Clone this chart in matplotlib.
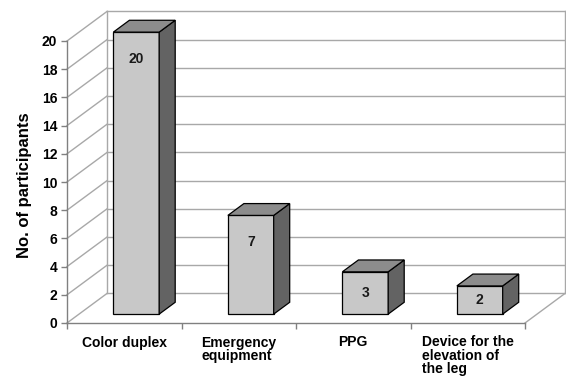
import matplotlib
matplotlib.use("Agg")
import matplotlib.pyplot as plt
from matplotlib.patches import Polygon

# Data
categories = ["Color duplex", "Emergency\nequipment", "PPG",
              "Device for the\nelevation of\nthe leg"]
participants = [20, 7, 3, 2]
y_ticks = list(range(0, 21, 2))

plt.rcParams['font.family'] = ['Liberation Sans', 'DejaVu Sans']
plt.rcParams['font.weight'] = 'bold'

W, H = 566, 377
fig = plt.figure(figsize=(W / 100, H / 100), dpi=100)
fig.patch.set_facecolor('white')
# axes box = front plane of the pseudo-3D chart
ax = fig.add_axes([67 / W, (H - 323) / H, 458 / W, 282 / H])
ax.set_xlim(0, len(categories))
ax.set_ylim(0, 20)
ax.patch.set_visible(False)

# depth vector of the 3D box, in data units
depth_x, depth_y = 0.35, 2.1
n = len(categories)
wall_c = '#a8a8a8'
axis_c = '#808080'

# back wall gridlines and left wall diagonals
for v in y_ticks:
    ax.plot([depth_x, n + depth_x], [v + depth_y] * 2, color=wall_c, lw=1, clip_on=False, zorder=1)
    ax.plot([0, depth_x], [v, v + depth_y], color=wall_c, lw=1, clip_on=False, zorder=1)
ax.plot([depth_x] * 2, [depth_y, 20 + depth_y], color=wall_c, lw=1, clip_on=False, zorder=1)
ax.plot([n + depth_x] * 2, [depth_y, 20 + depth_y], color=wall_c, lw=1, clip_on=False, zorder=1)
ax.plot([n, n + depth_x], [0, depth_y], color=wall_c, lw=1, clip_on=False, zorder=1)

# 3D bars
bar_w = 0.40
t_front, t_depth = 0.30, 0.40
off_x, off_y = t_front * depth_x, t_front * depth_y
ddx, ddy = t_depth * depth_x, t_depth * depth_y
front_c, side_c, top_c = '#c8c8c8', '#636363', '#8c8c8c'

centers = [i + 0.5 + off_x for i in range(n)]
bars = ax.bar(centers, participants, width=bar_w, bottom=off_y,
              color=front_c, edgecolor='black', linewidth=0.9, zorder=3, clip_on=False)
for rect, v in zip(bars, participants):
    x0, y0 = rect.get_x(), rect.get_y()
    x1, y1 = x0 + rect.get_width(), y0 + rect.get_height()
    side = Polygon([(x1, y0), (x1 + ddx, y0 + ddy), (x1 + ddx, y1 + ddy), (x1, y1)],
                   closed=True, facecolor=side_c, edgecolor='black', lw=0.9, zorder=3, clip_on=False)
    top = Polygon([(x0, y1), (x1, y1), (x1 + ddx, y1 + ddy), (x0 + ddx, y1 + ddy)],
                  closed=True, facecolor=top_c, edgecolor='black', lw=0.9, zorder=3, clip_on=False)
    ax.add_patch(side)
    ax.add_patch(top)
    ly = y0 + max(v / 2, v - 1.9)
    ax.text((x0 + x1) / 2, ly, str(v), ha='center', va='center',
            fontsize=10, fontweight='bold', color='#1a1a1a', zorder=4)

# axes styling
for s in ('top', 'right'):
    ax.spines[s].set_visible(False)
for s in ('left', 'bottom'):
    ax.spines[s].set_color(axis_c)
    ax.spines[s].set_linewidth(1)

ax.set_yticks(y_ticks)
ax.tick_params(axis='y', length=4, width=1, color=axis_c, labelsize=10, pad=3)
ax.set_xticks([i + 0.5 for i in range(n)], categories)
ax.set_xticks(range(n + 1), minor=True)
ax.tick_params(axis='x', which='major', length=0, labelsize=10, pad=9)
ax.tick_params(axis='x', which='minor', length=4, width=1, color=axis_c)
for lbl in ax.get_xticklabels():
    lbl.set_multialignment('left')
    lbl.set_linespacing(0.95)
    lbl.set_fontweight('bold')
for lbl in ax.get_yticklabels():
    lbl.set_fontweight('bold')

ax.set_ylabel("No. of participants", fontsize=12, fontweight='bold')
ax.yaxis.set_label_coords(-0.076, 0.49)

fig.savefig("out.png", dpi=100, facecolor='white')
